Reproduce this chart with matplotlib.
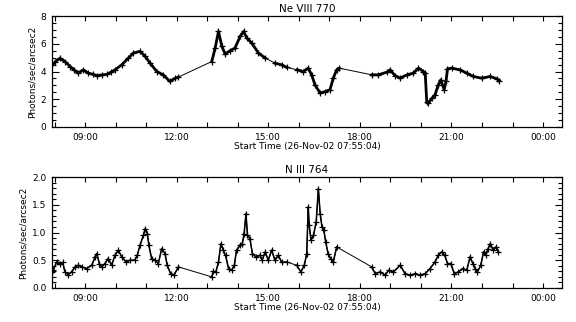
import numpy as np
import matplotlib
matplotlib.use('Agg')
import matplotlib.pyplot as plt
from matplotlib.ticker import MultipleLocator, FuncFormatter

# Ne VIII 770 lichtkromme: tijd in uren (dag 26-Nov-02), intensiteit
ne8_tijd = [7.92, 8.02, 8.18, 8.35, 8.51, 8.65, 8.78, 8.94, 9.11, 9.25, 9.38, 9.55, 9.71,
            9.85, 9.98, 10.2, 10.42, 10.58, 10.8, 10.97, 11.13, 11.35, 11.56, 11.78, 11.95, 12.06,
            13.15, 13.26, 13.37, 13.48, 13.59, 13.75, 13.91, 14.08, 14.19, 14.3, 14.46, 14.68,
            14.9, 15.22, 15.44, 15.6, 15.95, 16.15, 16.31, 16.42, 16.53, 16.7, 16.86, 17.02,
            17.13, 17.24, 17.33,
            18.39, 18.61, 18.88, 18.99, 19.15, 19.32, 19.54, 19.75, 19.92, 20.08, 20.14, 20.19,
            20.24, 20.36, 20.46, 20.57, 20.65, 20.76, 20.82, 20.87, 21.01, 21.28, 21.5, 21.72,
            21.99, 22.27, 22.49, 22.57]
ne8_waarde = [4.45, 4.7, 4.95, 4.7, 4.36, 4.1, 3.88, 4.12, 3.88, 3.8, 3.71, 3.75, 3.79,
              3.95, 4.12, 4.48, 4.97, 5.33, 5.45, 5.09, 4.6, 4.0, 3.76, 3.28, 3.52, 3.6,
              4.72, 5.69, 6.89, 5.81, 5.26, 5.5, 5.69, 6.53, 6.89, 6.41, 6.05, 5.33,
              4.97, 4.6, 4.48, 4.3, 4.12, 4.0, 4.24, 3.76, 3.04, 2.44, 2.55, 2.68,
              3.52, 4.12, 4.24,
              3.76, 3.76, 3.95, 4.12, 3.71, 3.52, 3.76, 3.88, 4.24, 4.0, 3.88, 1.83,
              1.71, 2.07, 2.31, 3.04, 3.4, 2.68, 3.28, 4.19, 4.24, 4.12, 3.88, 3.64,
              3.52, 3.64, 3.47, 3.33]

# N III 764 lichtkromme
n3_tijd = [7.92, 7.96, 8.07, 8.18, 8.27, 8.34, 8.45, 8.56, 8.67, 8.78, 8.89, 9.05, 9.22,
           9.33, 9.38, 9.47, 9.54, 9.65, 9.76, 9.87, 9.98, 10.09, 10.2, 10.34, 10.47, 10.63,
           10.71, 10.8, 10.91, 10.97, 11.04, 11.09, 11.18, 11.29, 11.4, 11.51, 11.62, 11.69,
           11.8, 11.91, 12.06,
           13.15, 13.2, 13.28, 13.37, 13.45, 13.53, 13.6, 13.7, 13.8, 13.89, 13.96, 14.08,
           14.15, 14.21, 14.27, 14.32, 14.4, 14.48, 14.6, 14.73, 14.8, 14.9, 15.0, 15.11,
           15.22, 15.33, 15.44, 15.6, 15.93, 16.07, 16.18, 16.26, 16.31, 16.34, 16.4,
           16.48, 16.57, 16.64, 16.7, 16.76, 16.82, 16.88, 16.96, 17.04, 17.13, 17.24,
           18.39, 18.5, 18.67, 18.83, 18.94, 19.1, 19.32, 19.48, 19.65, 19.82, 19.97, 20.14,
           20.3, 20.46, 20.57, 20.68, 20.78, 20.87, 20.98, 21.09, 21.23, 21.37, 21.5, 21.61,
           21.7, 21.78, 21.85, 21.96, 22.05, 22.12, 22.2, 22.27, 22.37, 22.46, 22.54]
n3_waarde = [0.29, 0.32, 0.47, 0.44, 0.46, 0.29, 0.24, 0.29, 0.38, 0.41, 0.38, 0.35, 0.41,
             0.56, 0.62, 0.44, 0.38, 0.44, 0.53, 0.41, 0.59, 0.68, 0.56, 0.47, 0.5, 0.5,
             0.59, 0.77, 0.95, 1.07, 0.98, 0.77, 0.53, 0.5, 0.44, 0.71, 0.62, 0.41,
             0.26, 0.23, 0.38,
             0.2, 0.3, 0.28, 0.47, 0.8, 0.68, 0.59, 0.35, 0.32, 0.41, 0.68, 0.77,
             0.8, 0.98, 1.34, 0.95, 0.89, 0.62, 0.56, 0.59, 0.5, 0.65, 0.5, 0.68,
             0.5, 0.59, 0.46, 0.47, 0.41, 0.29, 0.41, 0.62, 1.46, 1.13, 0.86,
             0.95, 1.19, 1.79, 1.34, 1.1, 1.04, 0.83, 0.62, 0.53, 0.47, 0.74,
             0.38, 0.26, 0.29, 0.23, 0.32, 0.29, 0.41, 0.26, 0.23, 0.26, 0.23, 0.26,
             0.35, 0.47, 0.59, 0.65, 0.59, 0.44, 0.44, 0.26, 0.29, 0.35, 0.32, 0.56,
             0.44, 0.35, 0.29, 0.41, 0.65, 0.59, 0.71, 0.8, 0.68, 0.74, 0.65]

ylabel = 'Photons/sec/arcsec2'
xlabel = 'Start Time (26-Nov-02 07:55:04)'

fig = plt.figure(figsize=(5.76, 3.22), dpi=100)
ax1 = fig.add_axes([0.0903, 0.6056, 0.8854, 0.3447])
ax2 = fig.add_axes([0.0903, 0.1056, 0.8854, 0.3447])


def uur(x, pos):
    return '%02d:00' % (int(round(x)) % 24)


def teken(ax, tijd, waarde, lw):
    # dunne lijn over de datagaten, dikke lijn met plusjes over de meetreeksen
    tijd = np.asarray(tijd)
    waarde = np.asarray(waarde)
    ax.plot(tijd, waarde, '-', color='black', lw=0.7)
    knip = np.where(np.diff(tijd) > 0.3)[0] + 1
    for t, w in zip(np.split(tijd, knip), np.split(waarde, knip)):
        ax.plot(t, w, '-', color='black', lw=lw, marker='+', ms=4, mew=0.9,
                solid_joinstyle='round')


for ax, tijd, waarde, titel, ymax, ymaj, ymin, lw in [
        (ax1, ne8_tijd, ne8_waarde, 'Ne VIII 770', 8, 2, 0.5, 2.0),
        (ax2, n3_tijd, n3_waarde, 'N III 764', 2.0, 0.5, 0.1, 1.1)]:
    teken(ax, tijd, waarde, lw)
    ax.set_xlim(7.918, 24.62)
    ax.set_ylim(0, ymax)
    ax.xaxis.set_major_locator(MultipleLocator(3))
    ax.xaxis.set_minor_locator(MultipleLocator(1))
    ax.xaxis.set_major_formatter(FuncFormatter(uur))
    ax.yaxis.set_major_locator(MultipleLocator(ymaj))
    ax.yaxis.set_minor_locator(MultipleLocator(ymin))
    if ymax == 2.0:
        ax.yaxis.set_major_formatter(FuncFormatter(lambda v, p: '%.1f' % v))
    ax.tick_params(which='both', direction='in', top=True, right=True,
                   labelsize=6.5, width=0.8, pad=4)
    ax.tick_params(axis='y', which='major', length=5)
    ax.tick_params(axis='y', which='minor', length=3)
    ax.tick_params(axis='x', which='both', length=3.5)
    for s in ax.spines.values():
        s.set_linewidth(0.9)
    ax.set_title(titel, fontsize=7.5, pad=3)
    ax.set_xlabel(xlabel, fontsize=6.5, labelpad=0)
    ax.set_ylabel(ylabel, fontsize=6.5, labelpad=3)

fig.savefig('out.png', dpi=100)
